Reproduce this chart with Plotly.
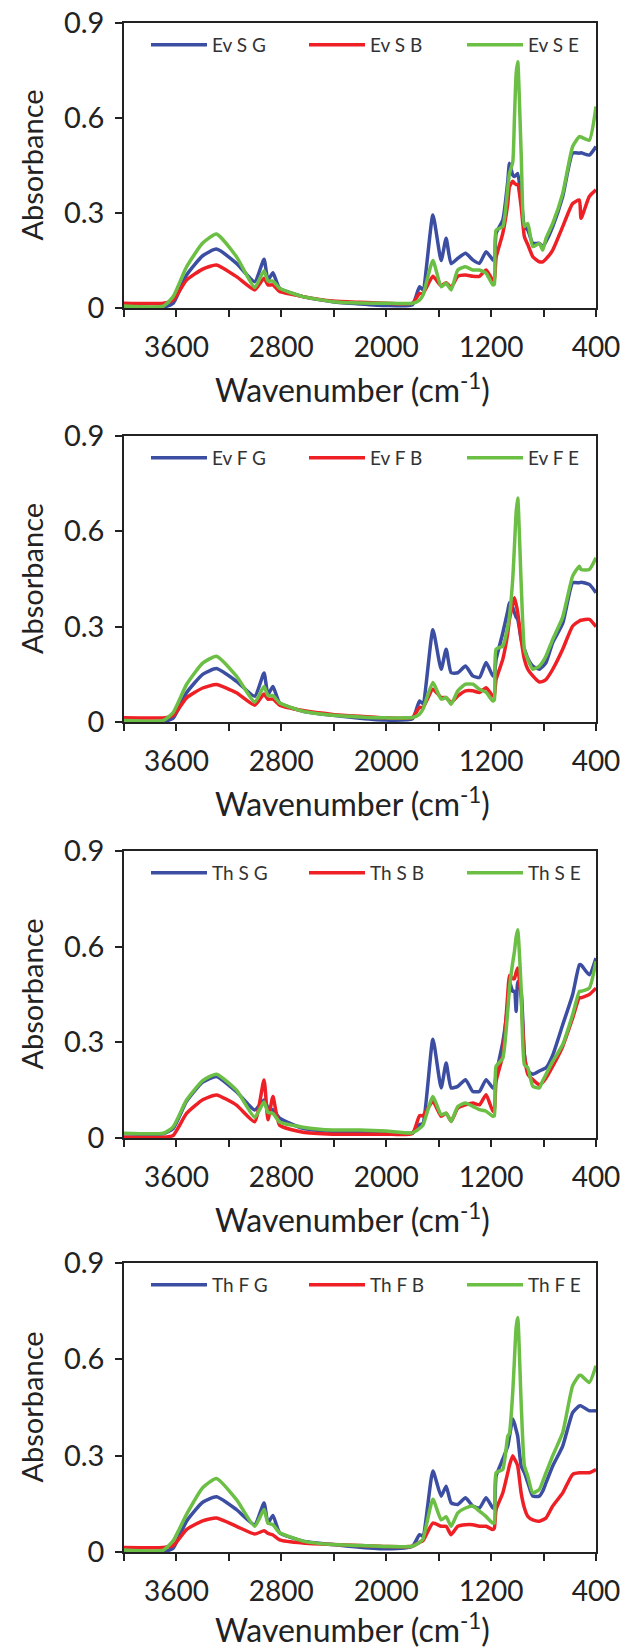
import plotly.graph_objects as go

# FTIR spectra (absorbance vs wavenumber, cm-1)
wavenumber = [4000, 3700, 3625, 3523, 3400, 3295, 3142, 3003, 2932, 2902, 2864, 2813,
              2635, 2407, 2200, 2000, 1800, 1746, 1720, 1644, 1581, 1543, 1505, 1454,
              1395, 1340, 1289, 1238, 1187, 1175, 1162, 1111, 1073, 1060, 1035, 1022,
              1009, 997, 971, 946, 920, 882, 832, 806, 781, 730, 654, 578, 527, 514,
              451, 400]

ev_s_g = [.003, .003, .015, .104, .165, .186, .141, .083, .154, .088, .111, .062,
          .036, .020, .013, .008, .010, .067, .058, .294, .150, .220, .140, .157,
          .173, .152, .141, .178, .152, .150, .236, .278, .400, .457, .420, .415,
          .420, .425, .350, .257, .246, .204, .204, .194, .210, .257, .352, .489, .489, .490,
          .483, .510]
ev_s_b = [.015, .015, .025, .088, .123, .136, .099, .057, .094, .073, .073, .052,
          .036, .022, .018, .015, .015, .046, .045, .100, .070, .080, .065, .100,
          .104, .100, .100, .120, .088, .090, .160, .236, .330, .383, .400, .394,
          .390, .390, .320, .225, .200, .162, .146, .146, .155, .183, .257, .330, .341, .283,
          .352, .373]
ev_s_e = [.006, .006, .036, .130, .205, .234, .162, .065, .118, .085, .085, .062,
          .036, .020, .016, .015, .015, .025, .040, .150, .067, .078, .057, .120,
          .130, .120, .120, .110, .073, .075, .246, .257, .380, .425, .460, .600,
          .740, .778, .490, .257, .267, .194, .204, .183, .220, .267, .362, .510, .541, .540,
          .530, .636]

ev_f_g = [.002, .002, .012, .092, .150, .168, .128, .081, .154, .086, .112, .060,
          .034, .021, .012, .006, .010, .066, .058, .290, .166, .229, .155, .155,
          .176, .145, .140, .187, .145, .150, .197, .280, .350, .375, .360, .344,
          .330, .323, .260, .229, .200, .176, .166, .175, .187, .250, .310, .438, .438, .440,
          .433, .407]
ev_f_b = [.013, .013, .020, .076, .107, .118, .092, .053, .088, .072, .072, .053,
          .036, .024, .018, .013, .014, .046, .045, .103, .077, .077, .061, .082,
          .098, .098, .093, .108, .082, .085, .134, .197, .280, .323, .370, .391,
          .370, .344, .260, .197, .166, .145, .126, .128, .134, .166, .229, .302, .318, .320,
          .323, .300]
ev_f_e = [.005, .005, .030, .118, .185, .207, .144, .063, .112, .083, .083, .060,
          .034, .021, .016, .013, .014, .025, .040, .124, .072, .077, .056, .098,
          .119, .119, .103, .093, .066, .070, .229, .239, .300, .333, .450, .553,
          .660, .705, .438, .229, .197, .166, .176, .190, .208, .260, .330, .459, .490, .480,
          .480, .517]

th_s_g = [.013, .013, .030, .115, .175, .193, .145, .088, .119, .095, .088, .062,
          .030, .020, .018, .018, .016, .042, .045, .310, .157, .235, .157, .162,
          .183, .146, .146, .183, .157, .160, .200, .300, .420, .490, .460, .460,
          .397, .490, .460, .260, .210, .200, .210, .215, .220, .260, .355, .450, .543, .543,
          .512, .564]
th_s_b = [.002, .002, .008, .077, .120, .135, .103, .051, .182, .057, .130, .040,
          .018, .012, .012, .012, .014, .070, .070, .115, .068, .078, .052, .094,
          .104, .110, .104, .136, .084, .090, .178, .260, .450, .510, .500, .500,
          .520, .533, .440, .260, .200, .183, .167, .175, .188, .225, .287, .376, .440, .440,
          .450, .470]
th_s_e = [.015, .015, .035, .119, .180, .200, .150, .065, .113, .080, .077, .050,
          .034, .025, .025, .022, .016, .030, .040, .130, .073, .078, .052, .099,
          .110, .099, .089, .084, .068, .070, .225, .250, .400, .470, .550, .585,
          .630, .653, .470, .230, .220, .162, .157, .180, .200, .240, .293, .387, .460, .460,
          .470, .554]

th_f_g = [.000, .000, .012, .096, .155, .172, .132, .085, .153, .090, .114, .060,
          .034, .023, .015, .010, .018, .054, .050, .252, .174, .205, .153, .148,
          .169, .143, .137, .169, .137, .140, .236, .289, .330, .360, .414, .400,
          .380, .360, .268, .247, .216, .174, .174, .190, .216, .268, .330, .434, .455, .455,
          .440, .440]
th_f_b = [.014, .014, .020, .070, .097, .106, .080, .056, .066, .058, .053, .038,
          .028, .023, .020, .017, .018, .030, .035, .090, .080, .080, .054, .080,
          .085, .085, .080, .080, .070, .075, .132, .184, .247, .270, .300, .290,
          .280, .268, .184, .137, .111, .100, .096, .100, .106, .143, .184, .242, .247, .247,
          .247, .257]
th_f_e = [.006, .006, .035, .117, .200, .229, .163, .080, .132, .090, .085, .060,
          .034, .023, .020, .017, .018, .030, .040, .164, .100, .110, .080, .122,
          .137, .143, .127, .110, .090, .090, .247, .257, .360, .370, .497, .600,
          .700, .730, .466, .268, .236, .184, .195, .220, .247, .300, .372, .518, .550, .550,
          .528, .580]

panel_prefixes = ["Ev S", "Ev F", "Th S", "Th F"]
panel_series = [
    (ev_s_g, ev_s_b, ev_s_e),
    (ev_f_g, ev_f_b, ev_f_e),
    (th_s_g, th_s_b, th_s_e),
    (th_f_g, th_f_b, th_f_e),
]
suffixes = ["G", "B", "E"]
colors = ["#3C4EA2", "#EE2026", "#6CBF45"]

x_tickvals = [3600, 2800, 2000, 1200, 400]
x_minor_tickvals = [4000, 3200, 2400, 1600, 800]
y_tickvals = [0, 0.3, 0.6, 0.9]
y_ticktext = ["0", "0.3", "0.6", "0.9"]

# layout in pixels
W, H = 621, 1649
plot_left, plot_right = 124, 596
plot_top, plot_bottom = 23, 1552
panel_px = [(23, 308), (436, 722), (851, 1138), (1263, 1552)]  # (top, bottom)
title_gap = [80, 80, 80, 76]  # last one nudged up so it stays on the page
span = plot_bottom - plot_top
pw = plot_right - plot_left


def py(p):
    return (plot_bottom - p) / span


FONT = "Lato"
INK = "#222"
fig = go.Figure()
annotations = []
layout = {}

for i, (prefix, series) in enumerate(zip(panel_prefixes, panel_series)):
    n = "" if i == 0 else str(i + 1)
    legend_name = "legend" + n
    for suf, vals, col in zip(suffixes, series, colors):
        fig.add_trace(go.Scatter(
            x=wavenumber, y=vals, mode="lines", name=f"{prefix} {suf}",
            line=dict(color=col, width=3.5, shape="spline", smoothing=0.5),
            xaxis="x" + n, yaxis="y" + n, legend=legend_name,
        ))
    top, bottom = panel_px[i]
    layout["xaxis" + n] = dict(
        domain=[0, 1], anchor="y" + n, range=[4000, 400], automargin=False,
        tickmode="array", tickvals=x_tickvals,
        ticks="outside", ticklen=7, tickwidth=1.5, tickcolor=INK,
        minor=dict(tickmode="array", tickvals=x_minor_tickvals, ticks="outside",
                   ticklen=7, tickwidth=1.5, tickcolor=INK),
        showline=True, linecolor=INK, linewidth=1.5, mirror=True,
        showgrid=False, zeroline=False, ticklabelstandoff=7,
        ticklabeloverflow="allow",
        tickfont=dict(family=FONT, size=28, color=INK),
    )
    layout["yaxis" + n] = dict(
        domain=[py(bottom), py(top)], anchor="x" + n, range=[0, 0.9], automargin=False,
        tickmode="array", tickvals=y_tickvals, ticktext=y_ticktext,
        ticks="outside", ticklen=7, tickwidth=1.5, tickcolor=INK,
        showline=True, linecolor=INK, linewidth=1.5, mirror=True,
        showgrid=False, zeroline=False, ticklabelstandoff=5,
        ticklabeloverflow="allow",
        tickfont=dict(family=FONT, size=29, color=INK),
    )
    layout[legend_name] = dict(
        orientation="h", x=(146 - plot_left) / pw,
        xanchor="left", y=py(top + 22), yanchor="middle",
        bgcolor="rgba(0,0,0,0)", font=dict(family=FONT, size=19, color="#333"),
        itemwidth=56, entrywidth=87, entrywidthmode="pixels",
        tracegroupgap=0,
    )
    annotations.append(dict(
        text="Wavenumber (cm<sup>-1</sup>)", xref="paper", yref="paper",
        x=0.5 - 8 / pw, y=py(bottom + title_gap[i]),
        xanchor="center", yanchor="middle", showarrow=False,
        font=dict(family=FONT, size=32, color=INK),
    ))
    annotations.append(dict(
        text="Absorbance", xref="paper", yref="paper", textangle=-90,
        x=(31 - plot_left) / pw, y=py((top + bottom) / 2),
        xanchor="center", yanchor="middle", showarrow=False,
        font=dict(family=FONT, size=29, color=INK),
    ))

fig.update_layout(
    width=W, height=H,
    margin=dict(l=plot_left, r=W - plot_right, t=plot_top, b=H - plot_bottom,
                autoexpand=False),
    paper_bgcolor="white", plot_bgcolor="white",
    showlegend=True, annotations=annotations,
    **layout,
)

# drop the browser's default body margin so the page does not scroll
fig.write_html("out.html", config={"displayModeBar": False},
               post_script="document.body.style.margin='0';")
